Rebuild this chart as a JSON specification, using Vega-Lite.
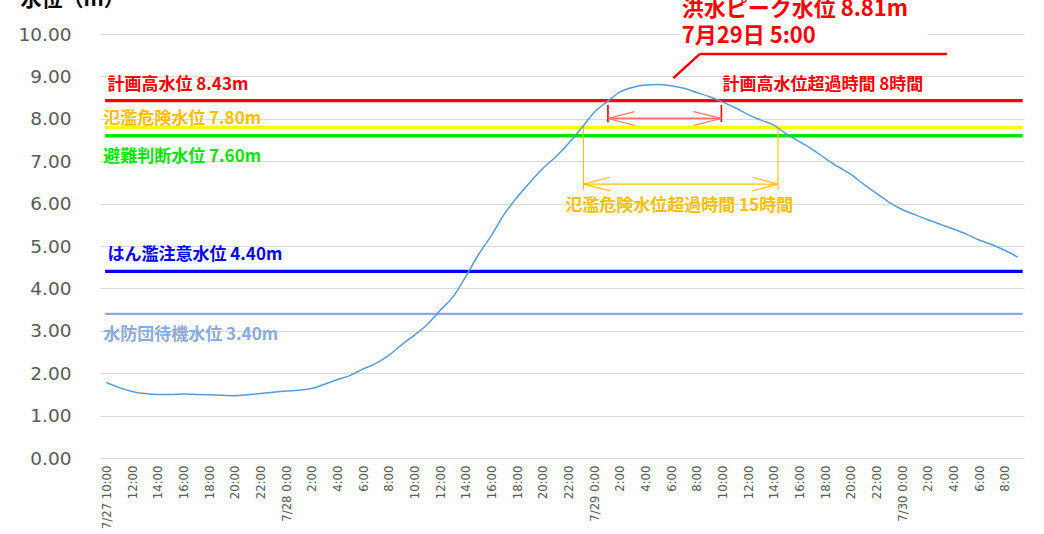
{
  "$schema": "https://vega.github.io/schema/vega-lite/v6.json",
  "width": 924,
  "height": 424,
  "autosize": {"type": "none"},
  "padding": {"left": 100, "top": 34, "right": 20, "bottom": 76},
  "background": "#FFFFFF",
  "config": {
    "view": {"stroke": null},
    "axisX": {
      "domain": false, "ticks": false, "grid": false,
      "labelAngle": 270, "labelAlign": "right", "labelBaseline": "middle",
      "labelFont": "Liberation Sans Narrow, DejaVu Sans Condensed, Roboto Condensed, sans-serif",
      "labelFontSize": 13, "labelColor": "#595959", "labelPadding": 7,
      "labelOverlap": false, "labelFlush": false, "labelBound": false
    },
    "axisY": {
      "domain": false, "ticks": false, "grid": true, "gridColor": "#D9D9D9", "gridWidth": 1,
      "labelFont": "DejaVu Sans", "labelFontSize": 18.5, "labelColor": "#595959", "labelPadding": 29,
      "titleAngle": 0, "titleX": -80, "titleY": -29, "titleAlign": "left", "titleBaseline": "alphabetic",
      "titleFont": "Noto Sans CJK JP", "titleFontSize": 21, "titleFontWeight": "bold", "titleColor": "#000000"
    }
  },
  "data": {
    "values": [
      {"series": "curve", "h": 0, "v": 1.78},
      {"series": "curve", "h": 1, "v": 1.66},
      {"series": "curve", "h": 2, "v": 1.57},
      {"series": "curve", "h": 3, "v": 1.52},
      {"series": "curve", "h": 4, "v": 1.50},
      {"series": "curve", "h": 5, "v": 1.50},
      {"series": "curve", "h": 6, "v": 1.51},
      {"series": "curve", "h": 7, "v": 1.50},
      {"series": "curve", "h": 8, "v": 1.49},
      {"series": "curve", "h": 9, "v": 1.48},
      {"series": "curve", "h": 10, "v": 1.47},
      {"series": "curve", "h": 11, "v": 1.49},
      {"series": "curve", "h": 12, "v": 1.52},
      {"series": "curve", "h": 13, "v": 1.55},
      {"series": "curve", "h": 14, "v": 1.58},
      {"series": "curve", "h": 15, "v": 1.60},
      {"series": "curve", "h": 16, "v": 1.64},
      {"series": "curve", "h": 17, "v": 1.74},
      {"series": "curve", "h": 18, "v": 1.85},
      {"series": "curve", "h": 19, "v": 1.95},
      {"series": "curve", "h": 20, "v": 2.10},
      {"series": "curve", "h": 21, "v": 2.23},
      {"series": "curve", "h": 22, "v": 2.42},
      {"series": "curve", "h": 23, "v": 2.67},
      {"series": "curve", "h": 24, "v": 2.90},
      {"series": "curve", "h": 25, "v": 3.15},
      {"series": "curve", "h": 26, "v": 3.48},
      {"series": "curve", "h": 27, "v": 3.80},
      {"series": "curve", "h": 28, "v": 4.28},
      {"series": "curve", "h": 29, "v": 4.80},
      {"series": "curve", "h": 30, "v": 5.25},
      {"series": "curve", "h": 31, "v": 5.75},
      {"series": "curve", "h": 32, "v": 6.15},
      {"series": "curve", "h": 33, "v": 6.50},
      {"series": "curve", "h": 34, "v": 6.83},
      {"series": "curve", "h": 35, "v": 7.10},
      {"series": "curve", "h": 36, "v": 7.42},
      {"series": "curve", "h": 37, "v": 7.77},
      {"series": "curve", "h": 38, "v": 8.15},
      {"series": "curve", "h": 39, "v": 8.40},
      {"series": "curve", "h": 40, "v": 8.63},
      {"series": "curve", "h": 41, "v": 8.74},
      {"series": "curve", "h": 42, "v": 8.80},
      {"series": "curve", "h": 43, "v": 8.81},
      {"series": "curve", "h": 44, "v": 8.78},
      {"series": "curve", "h": 45, "v": 8.72},
      {"series": "curve", "h": 46, "v": 8.62},
      {"series": "curve", "h": 47, "v": 8.52},
      {"series": "curve", "h": 48, "v": 8.40},
      {"series": "curve", "h": 49, "v": 8.26},
      {"series": "curve", "h": 50, "v": 8.10},
      {"series": "curve", "h": 51, "v": 7.97},
      {"series": "curve", "h": 52, "v": 7.85},
      {"series": "curve", "h": 53, "v": 7.64},
      {"series": "curve", "h": 54, "v": 7.46},
      {"series": "curve", "h": 55, "v": 7.28},
      {"series": "curve", "h": 56, "v": 7.07},
      {"series": "curve", "h": 57, "v": 6.87},
      {"series": "curve", "h": 58, "v": 6.69},
      {"series": "curve", "h": 59, "v": 6.46},
      {"series": "curve", "h": 60, "v": 6.24},
      {"series": "curve", "h": 61, "v": 6.03},
      {"series": "curve", "h": 62, "v": 5.86},
      {"series": "curve", "h": 63, "v": 5.74},
      {"series": "curve", "h": 64, "v": 5.62},
      {"series": "curve", "h": 65, "v": 5.51},
      {"series": "curve", "h": 66, "v": 5.40},
      {"series": "curve", "h": 67, "v": 5.28},
      {"series": "curve", "h": 68, "v": 5.14},
      {"series": "curve", "h": 69, "v": 5.03},
      {"series": "curve", "h": 70, "v": 4.90},
      {"series": "curve", "h": 71, "v": 4.74},

      {"series": "level", "k": "plan", "h": -0.1, "h2": 71.4, "v": 8.43},
      {"series": "level", "k": "danger", "h": -0.1, "h2": 71.4, "v": 7.80},
      {"series": "level", "k": "judge", "h": -0.1, "h2": 71.4, "v": 7.60},
      {"series": "level", "k": "caution", "h": -0.1, "h2": 71.4, "v": 4.40},
      {"series": "level", "k": "standby", "h": -0.1, "h2": 71.4, "v": 3.40},

      {"series": "label", "k": "plan", "h": 0.08, "v": 8.68, "text": "計画高水位 8.43m"},
      {"series": "label", "k": "dangerText", "h": -0.25, "v": 7.87, "text": "氾濫危険水位 7.80m"},
      {"series": "label", "k": "judge", "h": -0.25, "v": 6.98, "text": "避難判断水位 7.60m"},
      {"series": "label", "k": "caution", "h": 0.08, "v": 4.67, "text": "はん濫注意水位 4.40m"},
      {"series": "label", "k": "standby", "h": -0.25, "v": 2.78, "text": "水防団待機水位 3.40m"},
      {"series": "label", "k": "plan", "h": 48, "v": 8.68, "text": "計画高水位超過時間 8時間"},
      {"series": "label", "k": "dangerText", "h": 35.75, "v": 5.83, "text": "氾濫危険水位超過時間 15時間"},

      {"series": "peak", "k": "plan", "h": 44.83, "v": 10.42, "text": "洪水ピーク水位 8.81m"},
      {"series": "peak", "k": "plan", "h": 44.83, "v": 9.79, "text": "7月29日 5:00"},

      {"series": "box", "h": 44.67, "h2": 64, "v": 9.62, "v2": 10.6},

      {"series": "segA", "k": "peak", "h": 44.17, "v": 8.96, "h2": 46.25, "v2": 9.53},
      {"series": "segA", "k": "peak", "h": 46.25, "v": 9.53, "h2": 65.5, "v2": 9.53},
      {"series": "segB", "k": "redtick", "h": 39.08, "v": 8.33, "h2": 39.08, "v2": 7.92},
      {"series": "segB", "k": "redtick", "h": 47.92, "v": 8.33, "h2": 47.92, "v2": 7.92},
      {"series": "segB", "k": "redshaft", "h": 39.08, "v": 8.01, "h2": 47.92, "v2": 8.01},
      {"series": "segC", "k": "redhead", "h": 39.08, "v": 8.01, "h2": 41.17, "v2": 8.17},
      {"series": "segC", "k": "redhead", "h": 39.08, "v": 8.01, "h2": 41.17, "v2": 7.84},
      {"series": "segC", "k": "redhead", "h": 47.92, "v": 8.01, "h2": 45.75, "v2": 8.17},
      {"series": "segC", "k": "redhead", "h": 47.92, "v": 8.01, "h2": 45.75, "v2": 7.84},
      {"series": "segC", "k": "yellow", "h": 37.17, "v": 7.80, "h2": 37.17, "v2": 6.32},
      {"series": "segC", "k": "yellow", "h": 52.33, "v": 7.80, "h2": 52.33, "v2": 6.32},
      {"series": "segC", "k": "yellow", "h": 37.17, "v": 6.46, "h2": 52.33, "v2": 6.46},
      {"series": "segC", "k": "yellow", "h": 37.17, "v": 6.46, "h2": 39.25, "v2": 6.62},
      {"series": "segC", "k": "yellow", "h": 37.17, "v": 6.46, "h2": 39.25, "v2": 6.30},
      {"series": "segC", "k": "yellow", "h": 52.33, "v": 6.46, "h2": 50.33, "v2": 6.62},
      {"series": "segC", "k": "yellow", "h": 52.33, "v": 6.46, "h2": 50.33, "v2": 6.30}
    ]
  },
  "encoding": {
    "x": {
      "field": "h", "type": "quantitative",
      "scale": {"domain": [-0.5, 71.5], "nice": false, "zero": false},
      "axis": {
        "title": null,
        "values": [0, 2, 4, 6, 8, 10, 12, 14, 16, 18, 20, 22, 24, 26, 28, 30, 32, 34, 36, 38, 40, 42, 44, 46, 48, 50, 52, 54, 56, 58, 60, 62, 64, 66, 68, 70],
        "labelExpr": "datum.value == 0 ? '7/27 10:00' : ((datum.value + 10) % 24 == 0 ? '7/' + (27 + floor((datum.value + 10) / 24)) + ' 0:00' : ((datum.value + 10) % 24) + ':00')"
      }
    },
    "y": {
      "field": "v", "type": "quantitative",
      "scale": {"domain": [0, 10], "nice": false, "zero": true},
      "axis": {"title": "水位（m）", "values": [0, 1, 2, 3, 4, 5, 6, 7, 8, 9, 10], "format": ".2f"}
    },
    "color": {"field": "k", "type": "nominal", "legend": null, "scale": {
      "domain": ["plan", "danger", "dangerText", "judge", "caution", "standby", "peak", "redtick", "redshaft", "redhead", "yellow"],
      "range": ["#FF0000", "#FFFF00", "#FFC000", "#00E600", "#0000FF", "#8EA9DB", "#FF0000", "#FF0000", "#FF7070", "#FF7070", "#FFC000"]}}
  },
  "layer": [
    {
      "transform": [{"filter": "datum.series === 'box'"}],
      "mark": {"type": "rect", "fill": "#FFFFFF"},
      "encoding": {
        "x2": {"field": "h2"},
        "y2": {"field": "v2"},
        "color": {"value": "#FFFFFF"}
      }
    },
    {
      "transform": [{"filter": "datum.series === 'level' && datum.k !== 'standby'"}],
      "mark": {"type": "rule", "strokeWidth": 3.3},
      "encoding": {"x2": {"field": "h2"}}
    },
    {
      "transform": [{"filter": "datum.series === 'level' && datum.k === 'standby'"}],
      "mark": {"type": "rule", "strokeWidth": 2.2},
      "encoding": {"x2": {"field": "h2"}}
    },
    {
      "transform": [{"filter": "datum.series === 'curve'"}],
      "mark": {"type": "line", "strokeWidth": 1.5, "interpolate": "monotone"},
      "encoding": {"color": {"value": "#5B9BD5"}}
    },
    {
      "transform": [{"filter": "datum.series === 'segA'"}],
      "mark": {"type": "rule", "strokeWidth": 2.5},
      "encoding": {"x2": {"field": "h2"}, "y2": {"field": "v2"}}
    },
    {
      "transform": [{"filter": "datum.series === 'segB'"}],
      "mark": {"type": "rule", "strokeWidth": 1.6},
      "encoding": {"x2": {"field": "h2"}, "y2": {"field": "v2"}}
    },
    {
      "transform": [{"filter": "datum.series === 'segC'"}],
      "mark": {"type": "rule", "strokeWidth": 1.1},
      "encoding": {"x2": {"field": "h2"}, "y2": {"field": "v2"}}
    },
    {
      "transform": [{"filter": "datum.series === 'label'"}],
      "mark": {"type": "text", "align": "left", "baseline": "alphabetic", "font": "Noto Sans CJK JP", "fontWeight": "bold", "fontSize": 17},
      "encoding": {"text": {"field": "text", "type": "nominal"}}
    },
    {
      "transform": [{"filter": "datum.series === 'peak'"}],
      "mark": {"type": "text", "align": "left", "baseline": "alphabetic", "font": "Noto Sans CJK JP", "fontWeight": "bold", "fontSize": 22},
      "encoding": {"text": {"field": "text", "type": "nominal"}}
    }
  ]
}
